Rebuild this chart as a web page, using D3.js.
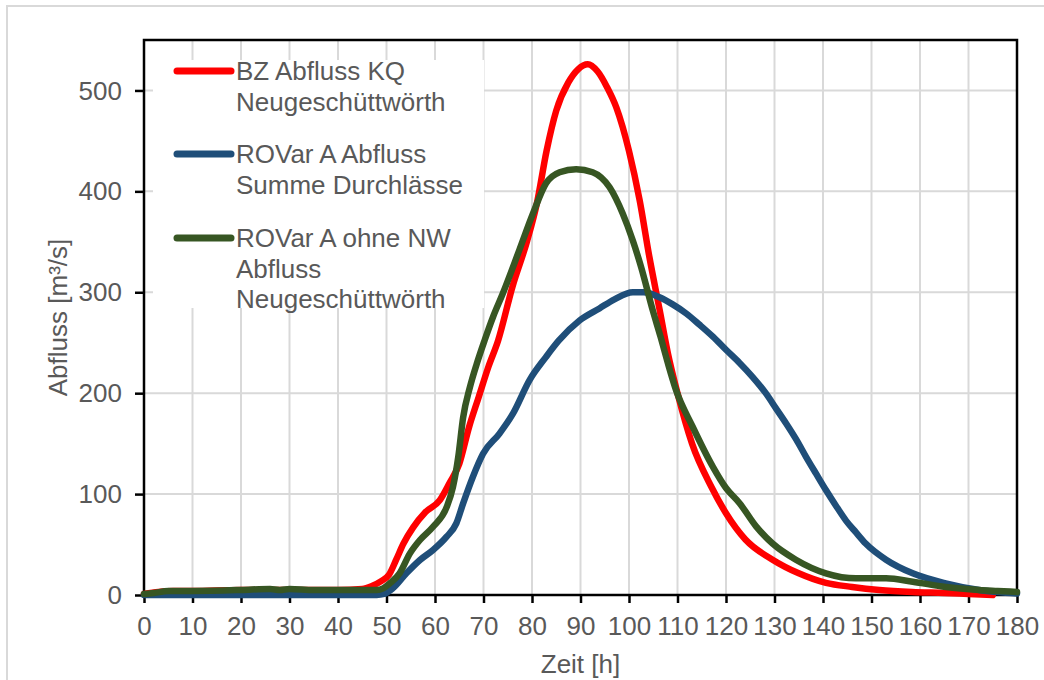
<!DOCTYPE html>
<html>
<head>
<meta charset="utf-8">
<script src="https://cdn.jsdelivr.net/npm/d3@7"></script>
<style>
  html, body { margin: 0; padding: 0; background: #ffffff; }
  svg { display: block; }
  text { font-family: "Liberation Sans", Arial, sans-serif; fill: #595959; }
</style>
</head>
<body>
<svg id="chart" width="1044" height="680"></svg>
<script>
// ---------- data ----------
const seriesNames = [
  ["BZ Abfluss KQ", "Neugeschüttwörth"],
  ["ROVar A Abfluss", "Summe Durchlässe"],
  ["ROVar A ohne NW", "Abfluss", "Neugeschüttwörth"]
];
const seriesColors = ["#ff0000", "#1f4e79", "#375623"];

const redT = [0,3,6,10,20,26,30,40,45,47,49,50.5,52,53.5,55.5,58,61,63,65,67,69,71,73,76,79,81,83,85,87.5,89.5,91.5,93.5,95.5,97.4,100,102.2,104.2,106.3,108,110,113,117,120,124,129.6,135,140.6,146,151.6,158.4,165,170,175];
const redV = [1,3,4,4,5,5,5,5,6,9,14,20,35,51,67,82,94,111,130,166,196,226,252,306,351,388,440,480,508,521,526,519,503,483,440,391,335,283,240,200,150,107,81,55,35,21.5,12,8,5,3,2,1,0];

const blueT = [0,10,20,30,40,48,49.5,51.3,54.1,56.9,59.6,62.4,64.4,65.8,67.8,69.9,73.3,76.1,79.5,82.9,85.5,89.8,93.9,97,100.8,103,106.3,109,111.8,114.5,117.3,120,122.8,125.5,128.2,130.3,132.4,134.5,136.5,138.6,140.6,142.6,144.7,146.8,148.8,153,158.5,165.3,172.2,176,180];
const blueV = [0,0,0,0,0,0,1,6.6,21.5,34.7,44.6,57.8,71,90.8,117,140,160,180,213,236,252,272,284,293,300,300,295,288,279,268,256,243,230,216,200,185,170,154,137,120,104,89,74,62,51,35,21.5,11.6,5,3,1.5];

const greenT = [0,2,5,10,20,26,28,30,35,40,45,48,49.3,50.7,52.7,54.8,56.9,59.6,62.4,63.7,64.8,65.8,67.2,68.6,70.2,72,74,77.4,80.2,82.9,85.7,89.1,92.5,96,98.7,100.8,102.5,104.9,106.5,108,109.7,113.1,117.3,120,122.8,126.2,129.6,134.4,140.6,146.8,153,158.5,165.3,172.2,176,180];
const greenV = [1,2,4,4,5,6,5,6,5,5,5,5,6.6,11.6,21.5,41,54.5,67.6,87,107,137,176,206,229,252,276,299,342,378,408,419,422,419,404,378,351,325,282,256,230,203,167,127,106,91,68,51,35,21.5,16.5,16.5,13.2,8,5,4,3];

const xTicks = d3.range(0, 181, 10);
const yTicks = [0, 100, 200, 300, 400, 500];
const xTitle = "Zeit [h]";
const yTitle = "Abfluss [m³/s]";

// ---------- layout ----------
const svg = d3.select("#chart");
const mLeft = 144, mRight = 1017, mTop = 40, mBottom = 595;
const x = d3.scaleLinear().domain([0, 180]).range([mLeft, mRight]);
const y = d3.scaleLinear().domain([0, 550]).range([mBottom, mTop]);

// outer chart frame
svg.append("rect").attr("x", 7).attr("y", 6).attr("width", 1060).attr("height", 700)
  .attr("fill", "#ffffff").attr("stroke", "#d9d9d9").attr("stroke-width", 2);

// gridlines
const grid = svg.append("g");
grid.selectAll("line.v").data(xTicks.filter(d => d > 0 && d < 180)).join("line")
  .attr("class", "v")
  .attr("x1", d => x(d)).attr("x2", d => x(d)).attr("y1", mTop).attr("y2", mBottom)
  .attr("stroke", "#d9d9d9").attr("stroke-width", 2);
grid.selectAll("line.h").data(yTicks.filter(d => d > 0)).join("line")
  .attr("class", "h")
  .attr("x1", mLeft).attr("x2", mRight).attr("y1", d => y(d)).attr("y2", d => y(d))
  .attr("stroke", "#d9d9d9").attr("stroke-width", 2);

// legend background (covers gridlines)
svg.append("rect").attr("x", 153).attr("y", 60).attr("width", 331).attr("height", 248)
  .attr("fill", "#ffffff");

// axes
const xAxis = d3.axisBottom(x).tickValues(xTicks).tickSize(8).tickPadding(14).tickFormat(d3.format("d"));
const yAxis = d3.axisLeft(y).tickValues(yTicks).tickSize(9).tickPadding(13).tickFormat(d3.format("d"));

const gx = svg.append("g").attr("transform", `translate(0,${mBottom})`).call(xAxis);
const gy = svg.append("g").attr("transform", `translate(${mLeft},0)`).call(yAxis);
[gx, gy].forEach(g => {
  g.select(".domain").remove();
  g.selectAll(".tick line").attr("stroke", "#000").attr("stroke-width", 2.5);
  g.selectAll(".tick text").attr("font-size", 26).attr("fill", "#595959")
    .style("font-family", "'Liberation Sans', Arial, sans-serif");
});
gy.selectAll(".tick text").attr("dy", "0.33em");

// plot frame
svg.append("rect").attr("x", mLeft).attr("y", mTop).attr("width", mRight - mLeft).attr("height", mBottom - mTop)
  .attr("fill", "none").attr("stroke", "#000").attr("stroke-width", 2.5);

// axis titles
svg.append("text").attr("x", (mLeft + mRight) / 2).attr("y", 673).attr("text-anchor", "middle")
  .attr("font-size", 26).text(xTitle);
svg.append("text").attr("transform", `translate(67,${(mTop + mBottom) / 2}) rotate(-90)`)
  .attr("text-anchor", "middle").attr("font-size", 26).text(yTitle);

// series
const series = [
  { t: redT, v: redV },
  { t: blueT, v: blueV },
  { t: greenT, v: greenV }
];
const line = d3.line().x(d => x(d[0])).y(d => y(d[1])).curve(d3.curveMonotoneX);
series.forEach((s, i) => {
  const pts = s.t.map((t, j) => [t, s.v[j]]);
  svg.append("path").datum(pts).attr("d", line)
    .attr("fill", "none").attr("stroke", seriesColors[i]).attr("stroke-width", 6.5)
    .attr("stroke-linejoin", "round").attr("stroke-linecap", "round");
});

// legend
const legendY = [71, 154, 238];
seriesNames.forEach((lines, i) => {
  const g = svg.append("g");
  g.append("line").attr("x1", 177).attr("x2", 231).attr("y1", legendY[i]).attr("y2", legendY[i])
    .attr("stroke", seriesColors[i]).attr("stroke-width", 7).attr("stroke-linecap", "round");
  lines.forEach((txt, k) => {
    g.append("text").attr("x", 236).attr("y", legendY[i] + 9 + k * 30.5)
      .attr("font-size", 26).text(txt);
  });
});
</script>
</body>
</html>
